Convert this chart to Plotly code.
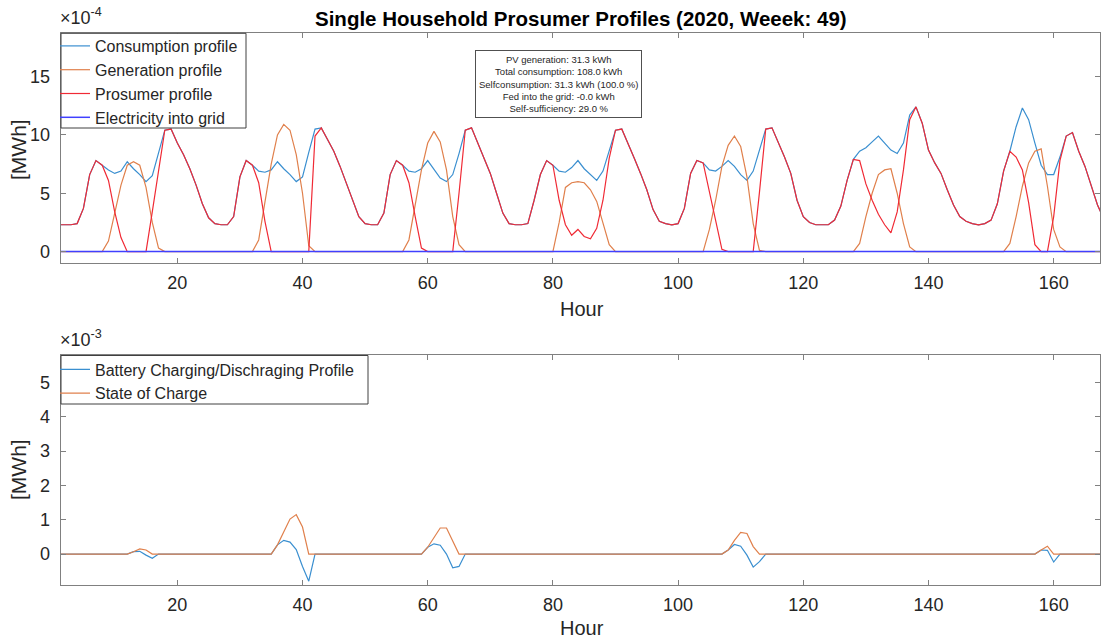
import plotly.graph_objects as go

# ---------------- data (hourly, week 49) ----------------
hours = list(range(1, 169))

# consumption profile [x1e-4 MWh], one line per day
consumption = (
    [2.3, 2.3, 2.3, 2.4, 3.7, 6.6, 7.8, 7.4, 7.0, 6.7, 6.9, 7.7, 7.1, 6.6, 6.0, 6.5, 8.4, 10.4, 10.5, 9.3, 8.3, 7.1, 5.7, 4.1]
    + [2.9, 2.4, 2.3, 2.3, 3.0, 6.4, 7.8, 7.4, 6.9, 6.8, 7.0, 7.7, 7.1, 6.6, 6.0, 6.4, 8.5, 10.5, 10.6, 9.6, 8.6, 7.3, 5.9, 4.4]
    + [3.0, 2.4, 2.3, 2.3, 3.3, 6.6, 7.8, 7.4, 6.9, 6.8, 7.1, 7.8, 7.0, 6.3, 6.0, 6.6, 8.4, 10.4, 10.6, 9.3, 8.1, 6.7, 5.0, 3.3]
    + [2.4, 2.3, 2.3, 2.4, 4.4, 6.6, 7.8, 7.4, 6.9, 6.8, 7.2, 7.8, 7.1, 6.6, 6.1, 6.9, 8.6, 10.4, 10.5, 9.3, 8.0, 6.7, 5.3, 3.6]
    + [2.6, 2.4, 2.3, 2.4, 3.7, 6.7, 7.8, 7.6, 7.0, 6.9, 7.3, 7.8, 7.3, 6.6, 6.1, 6.9, 8.6, 10.5, 10.6, 9.4, 8.1, 6.7, 4.4, 3.0]
    + [2.5, 2.3, 2.3, 2.3, 2.7, 3.9, 6.1, 7.9, 8.6, 8.9, 9.4, 9.9, 9.3, 8.7, 8.4, 9.3, 11.7, 12.4, 11.0, 8.7, 7.6, 6.7, 5.3, 4.0]
    + [3.0, 2.6, 2.4, 2.3, 2.4, 2.7, 4.1, 6.9, 8.6, 10.7, 12.3, 11.3, 9.3, 7.4, 6.6, 6.6, 8.1, 9.9, 10.2, 8.6, 7.3, 5.6, 4.0, 2.8]
)

# generation profile [x1e-4 MWh]
generation = (
    [0, 0, 0, 0, 0, 0, 0, 0, 0.9, 3.3, 5.7, 7.4, 7.7, 7.4, 5.5, 2.5, 0.3, 0, 0, 0, 0, 0, 0, 0]
    + [0, 0, 0, 0, 0, 0, 0, 0, 1.0, 4.2, 7.5, 10.0, 10.9, 10.4, 8.3, 5.0, 0.5, 0, 0, 0, 0, 0, 0, 0]
    + [0, 0, 0, 0, 0, 0, 0, 0, 1.0, 4.0, 7.0, 9.3, 10.3, 9.4, 7.0, 3.0, 0.6, 0, 0, 0, 0, 0, 0, 0]
    + [0, 0, 0, 0, 0, 0, 0, 0, 2.5, 5.5, 5.9, 6.0, 5.9, 5.3, 4.3, 2.5, 0.6, 0, 0, 0, 0, 0, 0, 0]
    + [0, 0, 0, 0, 0, 0, 0, 0, 1.9, 4.4, 7.3, 9.1, 9.9, 9.0, 6.4, 2.4, 0.1, 0, 0, 0, 0, 0, 0, 0]
    + [0, 0, 0, 0, 0, 0, 0, 0, 0.7, 3.0, 5.0, 6.6, 7.0, 7.1, 5.0, 2.4, 0.4, 0, 0, 0, 0, 0, 0, 0]
    + [0, 0, 0, 0, 0, 0, 0, 0, 0.7, 3.0, 5.6, 7.6, 8.6, 8.8, 5.6, 1.9, 0.4, 0, 0, 0, 0, 0, 0, 0]
)

# prosumer profile [x1e-4 MWh]
prosumer = (
    [2.3, 2.3, 2.3, 2.4, 3.7, 6.6, 7.8, 7.4, 6.1, 3.4, 1.2, 0, 0, 0, 0, 3.4, 7.0, 10.4, 10.5, 9.3, 8.3, 7.1, 5.7, 4.1]
    + [2.9, 2.4, 2.3, 2.3, 3.0, 6.4, 7.8, 7.4, 5.9, 2.6, 0, 0, 0, 0, 0, 0, 0, 9.9, 10.6, 9.6, 8.6, 7.3, 5.9, 4.4]
    + [3.0, 2.4, 2.3, 2.3, 3.3, 6.6, 7.8, 7.4, 5.9, 3.0, 0.3, 0, 0, 0, 0, 0, 5.0, 10.4, 10.6, 9.3, 8.1, 6.7, 5.0, 3.3]
    + [2.4, 2.3, 2.3, 2.4, 4.4, 6.6, 7.8, 7.4, 4.4, 2.3, 1.4, 1.9, 1.3, 1.1, 2.0, 4.4, 8.0, 10.4, 10.5, 9.3, 8.0, 6.7, 5.3, 3.6]
    + [2.6, 2.4, 2.3, 2.4, 3.7, 6.7, 7.8, 7.6, 5.1, 2.5, 0.2, 0, 0, 0, 0, 0, 5.1, 10.5, 10.6, 9.4, 8.1, 6.7, 4.4, 3.0]
    + [2.5, 2.3, 2.3, 2.3, 2.7, 3.9, 6.1, 7.9, 7.8, 5.8, 4.4, 3.2, 2.3, 1.6, 3.4, 7.0, 11.3, 12.4, 11.0, 8.7, 7.6, 6.7, 5.3, 4.0]
    + [3.0, 2.6, 2.4, 2.3, 2.4, 2.7, 4.1, 6.9, 8.6, 8.1, 7.0, 4.2, 0.6, 0, 0, 3.0, 7.8, 9.9, 10.2, 8.6, 7.3, 5.6, 4.0, 2.8]
)

# electricity into grid [x1e-4 MWh] (zero all week)
grid = [0.0] * 168

# battery charging / discharging [x1e-3 MWh]
battery = (
    [0, 0, 0, 0, 0, 0, 0, 0, 0, 0, 0, 0, 0.07, 0.08, -0.03, -0.12, 0, 0, 0, 0, 0, 0, 0, 0]
    + [0, 0, 0, 0, 0, 0, 0, 0, 0, 0, 0, 0.27, 0.40, 0.35, 0.13, -0.36, -0.79, 0, 0, 0, 0, 0, 0, 0]
    + [0, 0, 0, 0, 0, 0, 0, 0, 0, 0, 0, 0.20, 0.30, 0.26, 0.0, -0.40, -0.36, 0, 0, 0, 0, 0, 0, 0]
    + [0, 0, 0, 0, 0, 0, 0, 0, 0, 0, 0, 0, 0, 0, 0, 0, 0, 0, 0, 0, 0, 0, 0, 0]
    + [0, 0, 0, 0, 0, 0, 0, 0, 0, 0, 0, 0.12, 0.28, 0.23, -0.03, -0.38, -0.22, 0, 0, 0, 0, 0, 0, 0]
    + [0, 0, 0, 0, 0, 0, 0, 0, 0, 0, 0, 0, 0, 0, 0, 0, 0, 0, 0, 0, 0, 0, 0, 0]
    + [0, 0, 0, 0, 0, 0, 0, 0, 0, 0, 0, 0, 0, 0.12, 0.11, -0.23, 0, 0, 0, 0, 0, 0, 0, 0]
)

# state of charge [x1e-3 MWh]
soc = (
    [0, 0, 0, 0, 0, 0, 0, 0, 0, 0, 0, 0, 0.07, 0.15, 0.12, 0.0, 0, 0, 0, 0, 0, 0, 0, 0]
    + [0, 0, 0, 0, 0, 0, 0, 0, 0, 0, 0, 0.27, 0.67, 1.02, 1.15, 0.79, 0.0, 0, 0, 0, 0, 0, 0, 0]
    + [0, 0, 0, 0, 0, 0, 0, 0, 0, 0, 0, 0.20, 0.50, 0.76, 0.76, 0.36, 0.0, 0, 0, 0, 0, 0, 0, 0]
    + [0, 0, 0, 0, 0, 0, 0, 0, 0, 0, 0, 0, 0, 0, 0, 0, 0, 0, 0, 0, 0, 0, 0, 0]
    + [0, 0, 0, 0, 0, 0, 0, 0, 0, 0, 0, 0.12, 0.40, 0.63, 0.60, 0.22, 0.0, 0, 0, 0, 0, 0, 0, 0]
    + [0, 0, 0, 0, 0, 0, 0, 0, 0, 0, 0, 0, 0, 0, 0, 0, 0, 0, 0, 0, 0, 0, 0, 0]
    + [0, 0, 0, 0, 0, 0, 0, 0, 0, 0, 0, 0, 0, 0.12, 0.23, 0.0, 0, 0, 0, 0, 0, 0, 0, 0]
)

x_ticks = [20, 40, 60, 80, 100, 120, 140, 160]
top_y_ticks = [0, 5, 10, 15]
bottom_y_ticks = [0, 1, 2, 3, 4, 5]

info_lines = [
    "PV generation: 31.3 kWh",
    "Total consumption: 108.0 kWh",
    "Selfconsumption: 31.3 kWh (100.0 %)",
    "Fed into the grid: -0.0 kWh",
    "Self-sufficiency: 29.0 %",
]

# ---------------- figure ----------------
W, H = 1101, 641
FONT = "Liberation Sans, Arial, sans-serif"
TXT = "#262626"
AX = "#808080"


def px_x(p):
    return p / W


def px_y(p):
    return 1 - p / H


C_CONS = "#3a8fd0"
C_GEN = "#e0804c"
C_PROS = "#f02a35"
C_GRID = "#4040ff"

fig = go.Figure()
fig.add_trace(go.Scatter(x=hours, y=consumption, mode="lines", name="Consumption profile",
                         line=dict(color=C_CONS, width=1.2), xaxis="x", yaxis="y", legend="legend"))
fig.add_trace(go.Scatter(x=hours, y=generation, mode="lines", name="Generation profile",
                         line=dict(color=C_GEN, width=1.2), xaxis="x", yaxis="y", legend="legend"))
fig.add_trace(go.Scatter(x=hours, y=prosumer, mode="lines", name="Prosumer profile",
                         line=dict(color=C_PROS, width=1.2), xaxis="x", yaxis="y", legend="legend"))
fig.add_trace(go.Scatter(x=hours, y=grid, mode="lines", name="Electricity into grid",
                         line=dict(color=C_GRID, width=1.5), xaxis="x", yaxis="y", legend="legend"))
fig.add_trace(go.Scatter(x=hours, y=battery, mode="lines", name="Battery Charging/Dischraging Profile",
                         line=dict(color=C_CONS, width=1.2), xaxis="x2", yaxis="y2", legend="legend2"))
fig.add_trace(go.Scatter(x=hours, y=soc, mode="lines", name="State of Charge",
                         line=dict(color=C_GEN, width=1.2), xaxis="x2", yaxis="y2", legend="legend2"))

axis_common = dict(
    showline=True, linecolor=AX, linewidth=1, mirror="ticks",
    ticks="inside", ticklen=5, tickcolor=AX, tickwidth=1,
    showgrid=False, zeroline=False,
    tickfont=dict(family=FONT, size=18, color=TXT),
)
xdom = [px_x(60.7), px_x(1100)]
x_range = [1.37, 167.4]

legend_common = dict(
    xanchor="left", yanchor="top", bgcolor="rgba(0,0,0,0)", borderwidth=0,
    font=dict(family=FONT, size=16, color=TXT), itemwidth=30, tracegroupgap=0,
)

fig.update_layout(
    width=W, height=H,
    margin=dict(l=0, r=0, t=0, b=0),
    paper_bgcolor="white", plot_bgcolor="white",
    font=dict(family=FONT, color=TXT),
    xaxis=dict(domain=xdom, anchor="y", range=x_range, tickvals=x_ticks, ticklabelstandoff=3, **axis_common),
    yaxis=dict(domain=[px_y(263.3), px_y(33.3)], anchor="x", range=[-1.0, 18.7],
               tickvals=top_y_ticks, ticklabelstandoff=6, **axis_common),
    xaxis2=dict(domain=xdom, anchor="y2", range=x_range, tickvals=x_ticks, ticklabelstandoff=3, **axis_common),
    yaxis2=dict(domain=[px_y(585), px_y(355)], anchor="x2", range=[-0.9, 5.8],
                tickvals=bottom_y_ticks, ticklabelstandoff=6, **axis_common),
    legend=dict(x=px_x(55), y=px_y(29), **legend_common),
    legend2=dict(x=px_x(55), y=px_y(352.5), **legend_common),
    showlegend=True,
    shapes=[
        dict(type="rect", xref="paper", yref="paper",
             x0=px_x(61), x1=px_x(246), y0=px_y(128), y1=px_y(33.3),
             fillcolor="white", line=dict(color="#404040", width=1), layer="above"),
        dict(type="rect", xref="paper", yref="paper",
             x0=px_x(61), x1=px_x(368), y0=px_y(404), y1=px_y(355.5),
             fillcolor="white", line=dict(color="#404040", width=1), layer="above"),
    ],
)

annotations = [
    dict(text="<b>Single Household Prosumer Profiles (2020, Weeek: 49)</b>",
         x=px_x(581), y=px_y(18), xanchor="center", yanchor="middle",
         font=dict(family=FONT, size=20.5, color="black")),
    dict(text="×10<sup>-4</sup>", x=px_x(58), y=px_y(30), xanchor="left", yanchor="bottom",
         font=dict(family=FONT, size=18, color=TXT)),
    dict(text="×10<sup>-3</sup>", x=px_x(58), y=px_y(352), xanchor="left", yanchor="bottom",
         font=dict(family=FONT, size=18, color=TXT)),
    dict(text="[MWh]", x=px_x(18), y=px_y(150), xanchor="center", yanchor="middle", textangle=-90,
         font=dict(family=FONT, size=21, color=TXT)),
    dict(text="[MWh]", x=px_x(18), y=px_y(470), xanchor="center", yanchor="middle", textangle=-90,
         font=dict(family=FONT, size=21, color=TXT)),
    dict(text="Hour", x=px_x(582), y=px_y(309), xanchor="center", yanchor="middle",
         font=dict(family=FONT, size=20, color=TXT)),
    dict(text="Hour", x=px_x(582), y=px_y(628), xanchor="center", yanchor="middle",
         font=dict(family=FONT, size=20, color=TXT)),
    dict(text="<br>".join(info_lines), x=px_x(558), y=px_y(84), xanchor="center", yanchor="middle",
         align="center", bgcolor="white", bordercolor="#505050", borderwidth=1, borderpad=3,
         font=dict(family=FONT, size=9.5, color=TXT)),
]
for a in annotations:
    a.update(xref="paper", yref="paper", showarrow=False)
fig.update_layout(annotations=annotations)

fig.write_html("out.html")
